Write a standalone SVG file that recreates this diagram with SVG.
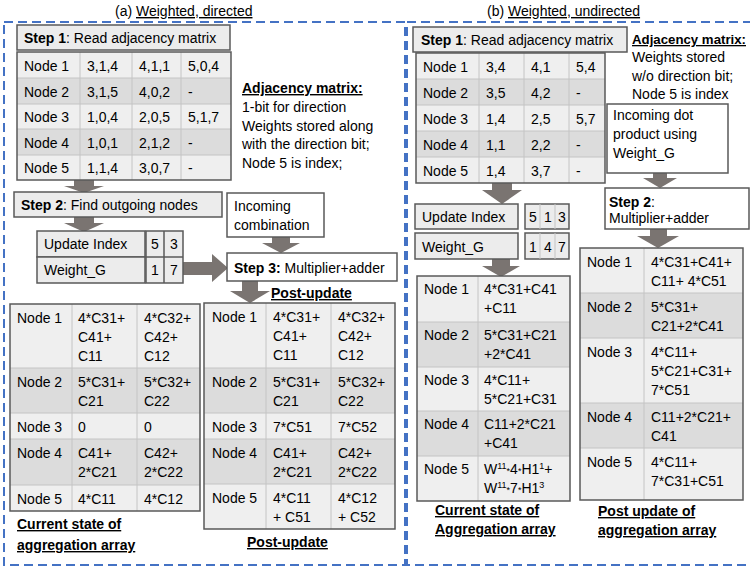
<svg xmlns="http://www.w3.org/2000/svg" width="750" height="572" viewBox="0 0 750 572">
<style>
text{font-family:"Liberation Sans",Arial,sans-serif;font-size:14px;fill:#000}
.b{font-weight:bold}
.u{text-decoration:underline}
.box{fill:#ececec;stroke:#595959;stroke-width:1.5}
.wbox{fill:#fff;stroke:#595959;stroke-width:1.5}
.c1{fill:#efefef}
.c2{fill:#dcdcdc}
.g{stroke:#c4c4c4;stroke-width:1;fill:none}
.out{fill:none;stroke:#595959;stroke-width:1.5}
.arrow{fill:#7a7471}
.dash{fill:none;stroke:#4472c4;stroke-width:2;stroke-dasharray:9 5}
.sup{font-size:9px}
</style>
<rect width="750" height="572" fill="#fff"/>

<g id="panels">
<rect class="dash" x="4" y="22" width="401" height="543"/>
<rect class="dash" x="407" y="22" width="360" height="543"/>
<text x="115" y="16">(a) <tspan class="u">Weighted, directed</tspan></text>
<text x="487" y="16">(b) <tspan class="u">Weighted, undirected</tspan></text>
</g>

<g id="connectors">
<polygon class="arrow" points="74,180 94,180 94,186 104,186 84,193 64,186 74,186"/>
<polygon class="arrow" points="74,217 94,217 94,223 104,223 84,232 64,223 74,223"/>
<polygon class="arrow" points="183,262 212,262 212,254 228,268 212,282 212,275 183,275"/>
<polygon class="arrow" points="272,237 290,237 290,243 300,243 281,253 262,243 272,243"/>
<polygon class="arrow" points="242,281 258,281 258,291 270,291 250,303 230,291 242,291"/>
<polygon class="arrow" points="492,183 512,183 512,190 522,190 502,204 482,190 492,190"/>
<polygon class="arrow" points="492,259 510,259 510,266 520,266 501,277 482,266 492,266"/>
<polygon class="arrow" points="653,173 667,173 667,178 677,178 660,188 643,178 653,178"/>
<polygon class="arrow" points="650,229 667,229 667,236 679,236 658,248 637,236 650,236"/>
</g>

<g id="a-step1">
<rect class="box" x="17" y="25" width="213" height="25"/>
<text x="24" y="43"><tspan class="b">Step 1</tspan>: Read adjacency matrix</text>
</g>

<g id="a-adjmatrix">
<rect class="c1" x="17" y="52" width="214" height="26"/>
<rect class="c2" x="17" y="78" width="214" height="26"/>
<rect class="c1" x="17" y="104" width="214" height="25"/>
<rect class="c2" x="17" y="129" width="214" height="26"/>
<rect class="c1" x="17" y="155" width="214" height="25"/>
<path class="g" d="M17,78H231M17,104H231M17,129H231M17,155H231M80,52V180M132,52V180M181,52V180"/>
<rect class="out" x="17" y="52" width="214" height="128"/>
<text x="24" y="71">Node 1</text><text x="87" y="71">3,1,4</text><text x="139" y="71">4,1,1</text><text x="188" y="71">5,0,4</text>
<text x="24" y="97">Node 2</text><text x="87" y="97">3,1,5</text><text x="139" y="97">4,0,2</text><text x="188" y="97">-</text>
<text x="24" y="122">Node 3</text><text x="87" y="122">1,0,4</text><text x="139" y="122">2,0,5</text><text x="188" y="122">5,1,7</text>
<text x="24" y="148">Node 4</text><text x="87" y="148">1,0,1</text><text x="139" y="148">2,1,2</text><text x="188" y="148">-</text>
<text x="24" y="173">Node 5</text><text x="87" y="173">1,1,4</text><text x="139" y="173">3,0,7</text><text x="188" y="173">-</text>
</g>

<g id="a-note">
<text x="242" y="93" class="b u">Adjacency matrix:</text>
<text x="242" y="112">1-bit for direction</text>
<text x="242" y="131">Weights stored along</text>
<text x="242" y="149">with the direction bit;</text>
<text x="242" y="168">Node 5 is index;</text>
</g>

<g id="a-step2">
<rect class="box" x="14" y="192" width="208" height="25"/>
<text x="21" y="210"><tspan class="b">Step 2</tspan>: Find outgoing nodes</text>
</g>

<g id="a-index">
<rect class="box" x="37" y="231" width="108" height="26"/>
<rect class="box" x="37" y="257" width="108" height="26"/>
<text x="44" y="249">Update Index</text>
<text x="44" y="275">Weight_G</text>
<rect class="box" x="146" y="231" width="37" height="52"/>
<path class="out" d="M146,257H183M164,231V283"/>
<text x="155" y="249" text-anchor="middle">5</text><text x="174" y="249" text-anchor="middle">3</text>
<text x="155" y="275" text-anchor="middle">1</text><text x="174" y="275" text-anchor="middle">7</text>
</g>

<g id="a-incoming">
<rect class="wbox" x="227" y="193" width="97" height="44"/>
<text x="234" y="211">Incoming</text>
<text x="234" y="230">combination</text>
</g>

<g id="a-step3">
<rect class="wbox" x="227" y="253" width="170" height="28"/>
<text x="234" y="273"><tspan class="b">Step 3:</tspan> Multiplier+adder</text>
</g>

<g id="a-current">
<rect class="c1" x="10" y="304" width="190" height="64"/>
<rect class="c2" x="10" y="368" width="190" height="45"/>
<rect class="c1" x="10" y="413" width="190" height="26"/>
<rect class="c2" x="10" y="439" width="190" height="46"/>
<rect class="c1" x="10" y="485" width="190" height="26"/>
<path class="g" d="M10,368H200M10,413H200M10,439H200M10,485H200M72,304V511M137,304V511"/>
<rect class="out" x="10" y="304" width="190" height="207"/>
<text x="17" y="323">Node 1</text><text x="78" y="323">4*C31+</text><text x="78" y="342">C41+</text><text x="78" y="361">C11</text>
<text x="144" y="323">4*C32+</text><text x="144" y="342">C42+</text><text x="144" y="361">C12</text>
<text x="17" y="387">Node 2</text><text x="78" y="387">5*C31+</text><text x="78" y="406">C21</text>
<text x="144" y="387">5*C32+</text><text x="144" y="406">C22</text>
<text x="17" y="432">Node 3</text><text x="78" y="432">0</text><text x="144" y="432">0</text>
<text x="17" y="458">Node 4</text><text x="78" y="458">C41+</text><text x="78" y="477">2*C21</text>
<text x="144" y="458">C42+</text><text x="144" y="477">2*C22</text>
<text x="17" y="504">Node 5</text><text x="78" y="504">4*C11</text><text x="144" y="504">4*C12</text>
<text x="17" y="529" class="b u">Current state of</text>
<text x="17" y="550" class="b u">aggregation array</text>
</g>

<g id="a-post">
<text x="271" y="298" class="b u">Post-update</text>
<rect class="c1" x="204" y="303" width="191" height="65"/>
<rect class="c2" x="204" y="368" width="191" height="45"/>
<rect class="c1" x="204" y="413" width="191" height="26"/>
<rect class="c2" x="204" y="439" width="191" height="45"/>
<rect class="c1" x="204" y="484" width="191" height="45"/>
<path class="g" d="M204,368H395M204,413H395M204,439H395M204,484H395M266,303V529M331,303V529"/>
<rect class="out" x="204" y="303" width="191" height="226"/>
<text x="212" y="322">Node 1</text><text x="273" y="322">4*C31+</text><text x="273" y="341">C41+</text><text x="273" y="360">C11</text>
<text x="338" y="322">4*C32+</text><text x="338" y="341">C42+</text><text x="338" y="360">C12</text>
<text x="212" y="387">Node 2</text><text x="273" y="387">5*C31+</text><text x="273" y="406">C21</text>
<text x="338" y="387">5*C32+</text><text x="338" y="406">C22</text>
<text x="212" y="432">Node 3</text><text x="273" y="432">7*C51</text><text x="338" y="432">7*C52</text>
<text x="212" y="458">Node 4</text><text x="273" y="458">C41+</text><text x="273" y="477">2*C21</text>
<text x="338" y="458">C42+</text><text x="338" y="477">2*C22</text>
<text x="212" y="503">Node 5</text><text x="273" y="503">4*C11</text><text x="273" y="522">+ C51</text>
<text x="338" y="503">4*C12</text><text x="338" y="522">+ C52</text>
<text x="247" y="547" class="b u">Post-update</text>
</g>

<g id="b-step1">
<rect class="box" x="413" y="27" width="214" height="25"/>
<text x="421" y="45"><tspan class="b">Step 1</tspan>: Read adjacency matrix</text>
</g>

<g id="b-adjmatrix">
<rect class="c1" x="416" y="53" width="189" height="26"/>
<rect class="c2" x="416" y="79" width="189" height="26"/>
<rect class="c1" x="416" y="105" width="189" height="26"/>
<rect class="c2" x="416" y="131" width="189" height="26"/>
<rect class="c1" x="416" y="157" width="189" height="26"/>
<path class="g" d="M416,79H605M416,105H605M416,131H605M416,157H605M479,53V183M524,53V183M569,53V183"/>
<rect class="out" x="416" y="53" width="189" height="130"/>
<text x="423" y="72">Node 1</text><text x="486" y="72">3,4</text><text x="531" y="72">4,1</text><text x="576" y="72">5,4</text>
<text x="423" y="98">Node 2</text><text x="486" y="98">3,5</text><text x="531" y="98">4,2</text><text x="576" y="98">-</text>
<text x="423" y="124">Node 3</text><text x="486" y="124">1,4</text><text x="531" y="124">2,5</text><text x="576" y="124">5,7</text>
<text x="423" y="150">Node 4</text><text x="486" y="150">1,1</text><text x="531" y="150">2,2</text><text x="576" y="150">-</text>
<text x="423" y="176">Node 5</text><text x="486" y="176">1,4</text><text x="531" y="176">3,7</text><text x="576" y="176">-</text>
</g>

<g id="b-note">
<text x="632" y="44" class="b u" style="font-size:13px" textLength="114" lengthAdjust="spacingAndGlyphs">Adjacency matrix:</text>
<text x="632" y="62">Weights stored</text>
<text x="632" y="81">w/o direction bit;</text>
<text x="632" y="99">Node 5 is index</text>
</g>

<g id="b-incoming">
<rect class="wbox" x="607" y="104" width="121" height="69"/>
<text x="613" y="120">Incoming dot</text>
<text x="613" y="139">product using</text>
<text x="613" y="158">Weight_G</text>
</g>

<g id="b-step2">
<rect class="wbox" x="605" y="188" width="144" height="41"/>
<text x="609" y="207"><tspan class="b">Step 2</tspan>:</text>
<text x="609" y="223">Multiplier+adder</text>
</g>

<g id="b-index">
<rect class="box" x="415" y="204" width="103" height="25"/>
<rect class="box" x="415" y="233" width="103" height="26"/>
<text x="422" y="222">Update Index</text>
<text x="422" y="252">Weight_G</text>
<rect class="box" x="525" y="204" width="44" height="25"/>
<rect class="box" x="525" y="233" width="44" height="26"/>
<path class="g" d="M540,204V229M555,204V229M540,233V259M555,233V259"/>
<text x="533" y="222" text-anchor="middle">5</text><text x="548" y="222" text-anchor="middle">1</text><text x="562" y="222" text-anchor="middle">3</text>
<text x="533" y="252" text-anchor="middle">1</text><text x="548" y="252" text-anchor="middle">4</text><text x="562" y="252" text-anchor="middle">7</text>
</g>

<g id="b-current">
<rect class="c1" x="417" y="276" width="153" height="46"/>
<rect class="c2" x="417" y="322" width="153" height="45"/>
<rect class="c1" x="417" y="367" width="153" height="44"/>
<rect class="c2" x="417" y="411" width="153" height="45"/>
<rect class="c1" x="417" y="456" width="153" height="45"/>
<path class="g" d="M417,322H570M417,367H570M417,411H570M417,456H570M478,276V501"/>
<rect class="out" x="417" y="276" width="153" height="225"/>
<text x="424" y="294">Node 1</text><text x="484" y="294">4*C31+C41</text><text x="484" y="313">+C11</text>
<text x="424" y="340">Node 2</text><text x="484" y="340">5*C31+C21</text><text x="484" y="359">+2*C41</text>
<text x="424" y="385">Node 3</text><text x="484" y="385">4*C11+</text><text x="484" y="404">5*C21+C31</text>
<text x="424" y="429">Node 4</text><text x="484" y="429">C11+2*C21</text><text x="484" y="448">+C41</text>
<text x="424" y="474">Node 5</text>
<text x="484" y="474">W<tspan class="sup" dy="-5">11</tspan><tspan class="sup" dy="5">*</tspan>4<tspan class="sup">*</tspan>H1<tspan class="sup" dy="-5">1</tspan><tspan dy="5">+</tspan></text>
<text x="484" y="493">W<tspan class="sup" dy="-5">11</tspan><tspan class="sup" dy="5">*</tspan>7<tspan class="sup">*</tspan>H1<tspan class="sup" dy="-5">3</tspan></text>
<text x="435" y="515" class="b u">Current state of</text>
<text x="435" y="534" class="b u">Aggregation array</text>
</g>

<g id="b-post">
<rect class="c1" x="580" y="248" width="163" height="45"/>
<rect class="c2" x="580" y="293" width="163" height="45"/>
<rect class="c1" x="580" y="338" width="163" height="65"/>
<rect class="c2" x="580" y="403" width="163" height="45"/>
<rect class="c1" x="580" y="448" width="163" height="52"/>
<path class="g" d="M580,293H743M580,338H743M580,403H743M580,448H743M644,248V500"/>
<rect class="out" x="580" y="248" width="163" height="252"/>
<text x="587" y="267">Node 1</text><text x="651" y="267">4*C31+C41+</text><text x="651" y="286">C11+ 4*C51</text>
<text x="587" y="312">Node 2</text><text x="651" y="312">5*C31+</text><text x="651" y="331">C21+2*C41</text>
<text x="587" y="357">Node 3</text><text x="651" y="357">4*C11+</text><text x="651" y="376">5*C21+C31+</text><text x="651" y="395">7*C51</text>
<text x="587" y="422">Node 4</text><text x="651" y="422">C11+2*C21+</text><text x="651" y="441">C41</text>
<text x="587" y="467">Node 5</text><text x="651" y="467">4*C11+</text><text x="651" y="486">7*C31+C51</text>
<text x="598" y="516" class="b u">Post update of</text>
<text x="598" y="535" class="b u">aggregation array</text>
</g>
</svg>
